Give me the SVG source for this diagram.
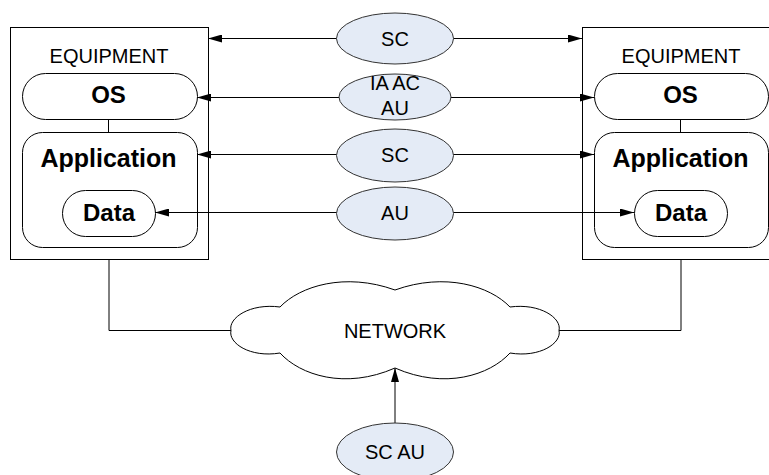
<svg xmlns="http://www.w3.org/2000/svg" width="769" height="475" viewBox="0 0 769 475">
  <defs>
    <marker id="arrow" viewBox="0 0 14 8" refX="14" refY="4" markerWidth="14" markerHeight="8" markerUnits="userSpaceOnUse" orient="auto-start-reverse">
      <path d="M0,0 L14,4 L0,8 Z" fill="#000"/>
    </marker>
    <style>
      .box { fill: #fff; stroke: #000; stroke-width: 1; }
      .pill { fill: #fff; stroke: #000; stroke-width: 1; }
      .oval { fill: #E4EBF6; stroke: #333; stroke-width: 1; }
      .wire { fill: none; stroke: #000; stroke-width: 1; }
      .lbl { font-family: "Liberation Sans", Arial, sans-serif; font-size: 20px; fill: #000; text-anchor: middle; }
      .big { font-family: "Liberation Sans", Arial, sans-serif; font-weight: bold; fill: #000; text-anchor: middle; }
    </style>
  </defs>

  <rect width="769" height="475" fill="#fff"/>

  <!-- left equipment -->
  <g id="equipment-left">
    <rect class="box" x="10.5" y="27.5" width="198" height="232"/>
    <text class="lbl" x="109" y="63">EQUIPMENT</text>
  </g>
  <g id="os-left">
    <rect class="pill" x="22.5" y="73.5" width="175" height="46" rx="23" ry="23"/>
    <text class="big" x="108.5" y="103" font-size="24">OS</text>
  </g>
  <g id="application-left">
    <rect class="pill" x="22.5" y="132.5" width="175" height="115" rx="20" ry="20"/>
    <text class="big" x="108.5" y="166.5" font-size="25">Application</text>
  </g>
  <g id="data-left">
    <rect class="pill" x="62.5" y="190.5" width="93" height="46" rx="23" ry="23"/>
    <text class="big" x="109" y="220.5" font-size="24">Data</text>
  </g>

  <!-- right equipment -->
  <g id="equipment-right">
    <rect class="box" x="582.5" y="27.5" width="198" height="232"/>
    <text class="lbl" x="681" y="63">EQUIPMENT</text>
  </g>
  <g id="os-right">
    <rect class="pill" x="594.5" y="73.5" width="174" height="46" rx="23" ry="23"/>
    <text class="big" x="680.5" y="103" font-size="24">OS</text>
  </g>
  <g id="application-right">
    <rect class="pill" x="594.5" y="132.5" width="174" height="115" rx="20" ry="20"/>
    <text class="big" x="680.5" y="166.5" font-size="25">Application</text>
  </g>
  <g id="data-right">
    <rect class="pill" x="634.5" y="190.5" width="93" height="46" rx="23" ry="23"/>
    <text class="big" x="681" y="220.5" font-size="24">Data</text>
  </g>

  <!-- connectors -->
  <g id="connectors">
    <line class="wire" x1="208" y1="38.5" x2="582" y2="38.5" marker-start="url(#arrow)" marker-end="url(#arrow)"/>
    <line class="wire" x1="197" y1="97.5" x2="594" y2="97.5" marker-start="url(#arrow)" marker-end="url(#arrow)"/>
    <line class="wire" x1="197" y1="154.5" x2="594" y2="154.5" marker-start="url(#arrow)" marker-end="url(#arrow)"/>
    <line class="wire" x1="155" y1="212.5" x2="634" y2="212.5" marker-start="url(#arrow)" marker-end="url(#arrow)"/>
    <line class="wire" x1="108.5" y1="120" x2="108.5" y2="132"/>
    <line class="wire" x1="680.5" y1="120" x2="680.5" y2="132"/>
    <polyline class="wire" points="109,260 109,330.5 232,330.5"/>
    <polyline class="wire" points="681,260 681,330.5 559,330.5"/>
    <line class="wire" x1="395" y1="423" x2="395" y2="368" marker-end="url(#arrow)"/>
  </g>

  <!-- security services between the two ends -->
  <g id="svc-sc-top">
    <ellipse class="oval" cx="395" cy="38.5" rx="58.5" ry="25.5"/>
    <text class="lbl" x="395" y="45.5">SC</text>
  </g>
  <g id="svc-ia-ac-au">
    <ellipse class="oval" cx="395" cy="97" rx="56" ry="23"/>
    <text class="lbl" x="395" y="90">IA AC</text>
    <text class="lbl" x="395" y="115">AU</text>
  </g>
  <g id="svc-sc-app">
    <ellipse class="oval" cx="395" cy="155.5" rx="58.5" ry="26.5"/>
    <text class="lbl" x="395" y="162">SC</text>
  </g>
  <g id="svc-au-data">
    <ellipse class="oval" cx="395" cy="213.5" rx="58.5" ry="26.5"/>
    <text class="lbl" x="395" y="220">AU</text>
  </g>

  <!-- network cloud -->
  <g id="network">
    <path class="pill" d="M280,307 C300,286 345,272 395,290 C445,272 490,286 510,307 C540,303 562,318 559,330.5 C562,343 540,358 510,353 C490,375 445,390 395,368 C345,390 300,375 280,353 C250,358 228,343 231,330.5 C228,318 250,303 280,307 Z"/>
    <text class="lbl" x="395" y="338">NETWORK</text>
  </g>

  <g id="svc-sc-au">
    <ellipse class="oval" cx="395" cy="452" rx="58.5" ry="29"/>
    <text class="lbl" x="395" y="459">SC AU</text>
  </g>
</svg>
